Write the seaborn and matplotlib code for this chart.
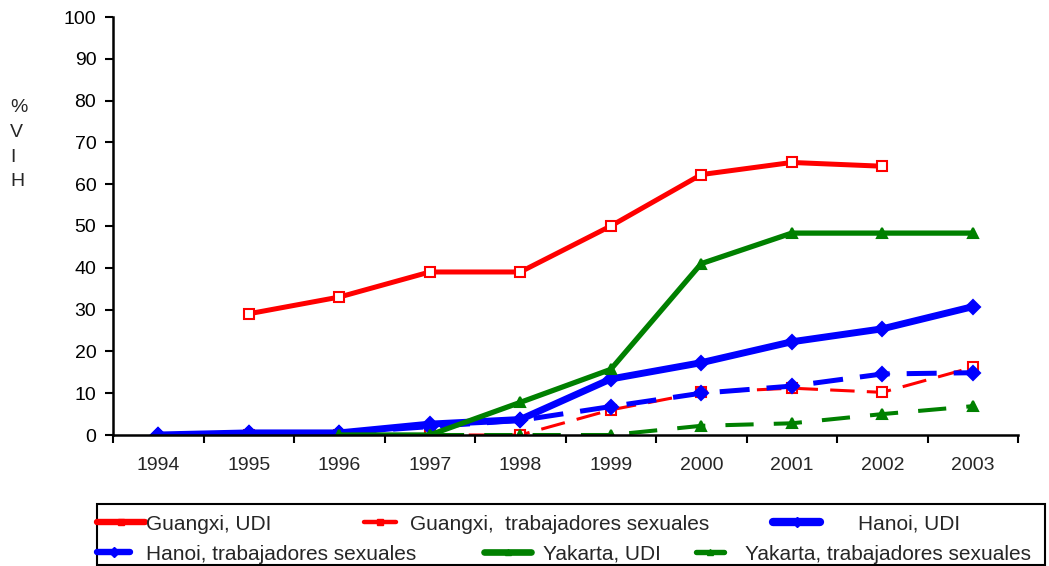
import numpy as np
import pandas as pd
import matplotlib
matplotlib.use("Agg")
import matplotlib.pyplot as plt
from matplotlib.lines import Line2D
from matplotlib.patches import Rectangle
import seaborn as sns

# datos
years = ['1994', '1995', '1996', '1997', '1998', '1999', '2000', '2001', '2002', '2003']
guangxi_udi = [np.nan, 29, 33, 39, 39, 50, 62.3, 65.2, 64.3, np.nan]
guangxi_ts = [np.nan, 0, 0, 0, 0, 6, 10.2, 11.2, 10.2, 16.2]
hanoi_udi = [0, 0.5, 0.5, 2.6, 3.7, 13.4, 17.3, 22.3, 25.4, 30.7]
hanoi_ts = [0, 0.5, 0.5, 2.0, 3.5, 6.8, 10, 11.7, 14.6, 14.9]
yakarta_udi = [np.nan, np.nan, 0, 0, 7.8, 15.7, 41, 48.3, 48.3, 48.3]
yakarta_ts = [np.nan, np.nan, 0, 0, 0, 0, 2.2, 2.8, 5, 6.9]

# nombre, valores, color, estilo, marcador, grosor, relleno
series = [
    ('Guangxi, UDI', guangxi_udi, '#ff0000', '-', 's', 3.6, 'white'),
    ('Guangxi,  trabajadores sexuales', guangxi_ts, '#ff0000', (0, (8, 4)), 's', 2.2, 'white'),
    ('Hanoi, UDI', hanoi_udi, '#0000ff', '-', 'D', 5.0, '#0000ff'),
    ('Hanoi, trabajadores sexuales', hanoi_ts, '#0000ff', (0, (6, 3.4)), 'D', 3.6, '#0000ff'),
    ('Yakarta, UDI', yakarta_udi, '#008000', '-', '^', 3.8, '#008000'),
    ('Yakarta, trabajadores sexuales', yakarta_ts, '#008000', (0, (7, 5)), '^', 2.9, '#008000'),
]

sns.set_style("ticks")
plt.rcParams['font.family'] = ['Liberation Sans', 'DejaVu Sans']

W, H = 1049, 566
fig = plt.figure(figsize=(W / 100, H / 100), dpi=100)
ax = fig.add_axes([113 / W, 1 - 435 / H, (1018 - 113) / W, (435 - 17) / H])

x = np.arange(len(years))
for name, vals, col, ls, mk, lw, mfc in series:
    df = pd.DataFrame({'x': x, 'y': vals}).dropna()
    sns.lineplot(data=df, x='x', y='y', ax=ax, color=col, linestyle=ls, linewidth=lw,
                 marker=mk, markersize=7, markerfacecolor=mfc,
                 markeredgecolor=col, markeredgewidth=1.5, legend=False)

ax.set_xlim(-0.5, len(years) - 0.5)
ax.set_ylim(0, 100)
ax.set_yticks(range(0, 101, 10))
ax.set_xticks(np.arange(-0.5, len(years), 1))
ax.set_xticklabels([])
ax.set_xticks(x, minor=True)
ax.set_xticklabels(years, minor=True)
ax.tick_params(axis='x', which='minor', length=0, pad=16, labelsize=14)
ax.tick_params(axis='x', which='major', length=6, direction='out', color='black', width=1.5)
ax.tick_params(axis='y', length=6, width=1.5, pad=6, labelsize=14, colors='black')
ax.set_xlabel('')
ax.set_ylabel('')
sns.despine(ax=ax)
for s in ['left', 'bottom']:
    ax.spines[s].set_color('black')
    ax.spines[s].set_linewidth(1.8)

fig.text(10 / W, 1 - 99 / H, '%\nV\nI\nH', fontsize=14, ha='left', va='top', linespacing=1.6)

# leyenda: cada entrada colocada como en el original
# (índice de serie, inicio del símbolo px, largo del símbolo px, inicio del texto px, fila y px)
legend_pos = [
    (0, 97, 48, 146, 524),
    (1, 364, 32, 410, 524),
    (2, 773, 47, 858, 524),
    (3, 97, 33, 146, 554),
    (4, 484, 47, 543, 554),
    (5, 696, 28, 745, 554),
]
fs = 15
em = fs * 100 / 72
for i, hx, hl, tx, ry in legend_pos:
    name, vals, col, ls, mk, lw, mfc = series[i]
    h = Line2D([], [], color=col, linestyle='-', linewidth=lw + 1, marker=mk,
               markersize=5, markerfacecolor=col, markeredgecolor=col)
    fig.legend([h], [name], loc='center left', bbox_to_anchor=(hx / W, 1 - ry / H),
               frameon=False, fontsize=fs, borderpad=0, borderaxespad=0,
               handlelength=hl / em, handletextpad=(tx - hx - hl) / em, numpoints=1)

fig.patches.append(Rectangle((97 / W, 1 / H), (1045 - 97) / W, (566 - 505) / H,
                             transform=fig.transFigure, fill=False, ec='black', lw=1.5))

fig.savefig('out.png', dpi=100)
